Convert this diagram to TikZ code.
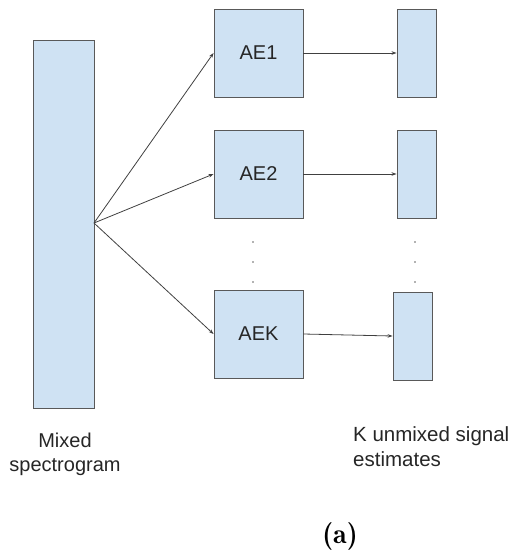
\documentclass[tikz,border=0pt]{standalone}
\usepackage{fontspec}
\setmainfont{Liberation Sans}
\usetikzlibrary{arrows.meta}
\definecolor{boxfill}{HTML}{CFE2F3}
\definecolor{boxline}{HTML}{595959}
\begin{document}
\begin{tikzpicture}[x=1pt,y=-1pt,
  blk/.style={draw=boxline,fill=boxfill,line width=0.9pt,inner sep=0pt,minimum width=#1},
  blk/.default=89pt,
  conn/.style={draw=black!75,line width=0.8pt,-{Stealth[length=5pt,width=3.5pt]}},
  lbl/.style={font=\fontsize{20}{23.5}\selectfont,inner sep=0pt,text=black!85},
  dotn/.style={circle,fill=black!60,inner sep=0pt,minimum size=1.6pt}]
\useasboundingbox (0,0) rectangle (523,560);
\node[blk=61pt,minimum height=368pt] (big) at (63.5,224) {};
\node[blk,minimum height=88pt,lbl] (ae1) at (258.5,53) {AE1};
\node[blk,minimum height=88pt,lbl] (ae2) at (258.5,174) {AE2};
\node[blk,minimum height=88pt,lbl] (aek) at (258.5,334) {AEK};
\node[blk=39pt,minimum height=88pt] (o1) at (416.5,53) {};
\node[blk=39pt,minimum height=88pt] (o2) at (416.5,174) {};
\node[blk=39pt,minimum height=88pt] (ok) at (412.5,336) {};
\coordinate (src) at (94,223);
\draw[conn] (src) -- (ae1.west);
\draw[conn] (src) -- (ae2.west);
\draw[conn] (src) -- (aek.west);
\draw[conn] (ae1.east) -- (o1.west);
\draw[conn] (ae2.east) -- (o2.west);
\draw[conn] (aek.east) -- (ok.west);
\node[dotn] (d1) at (253,242) {};
\node[dotn] (d2) at (253,262) {};
\node[dotn] (d3) at (253,282) {};
\node[dotn] (d4) at (415,242) {};
\node[dotn] (d5) at (415,262) {};
\node[dotn] (d6) at (415,282) {};
\node[lbl,align=center,anchor=north,font=\fontsize{20}{24}\selectfont] (mix) at (65,433) {Mixed\\spectrogram};
\node[lbl,align=left,anchor=north west,font=\fontsize{20.5}{25}\selectfont] (est) at (353,426) {K unmixed signal\\estimates};
\node[font=\fontfamily{lmr}\fontsize{28}{32}\selectfont\bfseries,inner sep=0pt] (cap) at (340,536) {(a)};
\end{tikzpicture}
\end{document}
